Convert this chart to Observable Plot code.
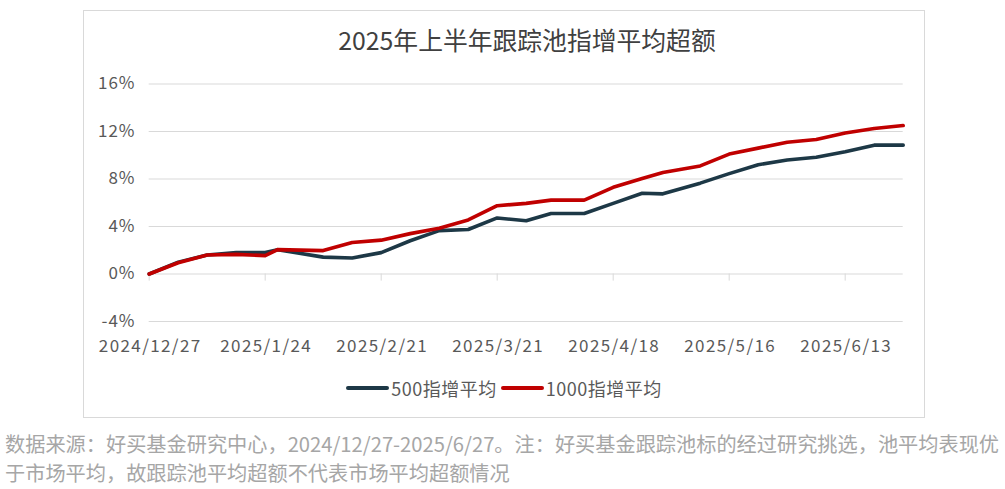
<!DOCTYPE html>
<html><head><meta charset="utf-8">
<script src="https://cdn.jsdelivr.net/npm/d3@7"></script>
<script src="https://cdn.jsdelivr.net/npm/@observablehq/plot@0.6"></script>
<style>
body{margin:0;background:#fff;width:1005px;height:489px;position:relative;overflow:hidden;font-family:"Noto Sans CJK SC","Noto Sans",sans-serif;}
#box{position:absolute;left:83px;top:10px;width:840px;height:406px;border:1px solid #d9d9d9;background:#fff;}
#title{position:absolute;left:23px;top:0;width:840px;height:56px;line-height:56px;text-align:center;font-size:24.8px;color:#404040;}
#chart{position:absolute;left:0;top:56px;}
#legend{position:absolute;left:0;top:356px;width:840px;height:42px;display:flex;align-items:center;justify-content:center;font-size:18px;letter-spacing:0.5px;color:#595959;}
#legend .sw{display:inline-block;width:43px;height:4px;border-radius:2px;margin-right:2px;}
#legend .it{display:flex;align-items:center;margin:0 2px;}
#caption{position:absolute;left:5px;top:429px;font-size:20.2px;line-height:29px;color:#a6a6a6;white-space:nowrap;}
#chart g[aria-label="x-axis tick label"] text{letter-spacing:1.4px;}
#chart g[aria-label="y-axis tick label"] text{letter-spacing:1px;}
</style></head>
<body>
<div id="box">
  <div id="title">2025年上半年跟踪池指增平均超额</div>
  <div id="chart"></div>
  <div id="legend"></div>
</div>
<div id="caption">数据来源：好买基金研究中心，2024/12/27-2025/6/27。注：好买基金跟踪池标的经过研究挑选，池平均表现优<br>于市场平均，故跟踪池平均超额不代表市场平均超额情况</div>
<script>
const dates = ["2024-12-27","2025-01-03","2025-01-10","2025-01-17","2025-01-24","2025-01-27","2025-02-07","2025-02-14","2025-02-21","2025-02-28","2025-03-07","2025-03-14","2025-03-21","2025-03-28","2025-04-03","2025-04-11","2025-04-18","2025-04-25","2025-04-30","2025-05-09","2025-05-16","2025-05-23","2025-05-30","2025-06-06","2025-06-13","2025-06-20","2025-06-27"];
const series500 = [0, 1.0, 1.6, 1.8, 1.8, 2.05, 1.42, 1.35, 1.8, 2.8, 3.65, 3.75, 4.72, 4.48, 5.1, 5.1, 5.95, 6.8, 6.75, 7.65, 8.45, 9.2, 9.6, 9.83, 10.3, 10.85, 10.85];
const series1000 = [0, 0.95, 1.6, 1.65, 1.55, 2.05, 1.97, 2.65, 2.85, 3.4, 3.85, 4.55, 5.75, 5.95, 6.22, 6.22, 7.3, 8.05, 8.55, 9.1, 10.1, 10.6, 11.1, 11.32, 11.88, 12.25, 12.5];
const seriesNames = ["500指增平均", "1000指增平均"];
const seriesColors = ["#1d3846", "#c00000"];
const yTicks = [-4, 0, 4, 8, 12, 16];
const xTickDates = ["2024-12-27","2025-01-24","2025-02-21","2025-03-21","2025-04-18","2025-05-16","2025-06-13"];
const xTickLabels = ["2024/12/27","2025/1/24","2025/2/21","2025/3/21","2025/4/18","2025/5/16","2025/6/13"];

const parse = d3.utcParse("%Y-%m-%d");
const rows = [];
dates.forEach((d, i) => {
  rows.push({date: parse(d), v: series500[i], s: seriesNames[0]});
});
dates.forEach((d, i) => {
  rows.push({date: parse(d), v: series1000[i], s: seriesNames[1]});
});
const tickDates = xTickDates.map(parse);
const labelOf = new Map(tickDates.map((d, i) => [+d, xTickLabels[i]]));
const font = '"Noto Sans CJK SC","Noto Sans",sans-serif';

const chart = Plot.plot({
  width: 840, height: 293,
  marginLeft: 64.7, marginRight: 21.3, marginTop: 16.5, marginBottom: 39,
  style: {fontFamily: font, fontSize: "17px", color: "#595959", background: "transparent", overflow: "visible"},
  x: {type: "utc", domain: [parse(dates[0]), parse(dates[dates.length - 1])]},
  y: {domain: [-4, 16]},
  color: {domain: seriesNames, range: seriesColors},
  marks: [
    Plot.gridY(yTicks, {stroke: "#d9d9d9", strokeOpacity: 1, strokeWidth: 1}),
    Plot.ruleX(tickDates, {x: d => d, y1: 0, y2: -0.6, stroke: "#d9d9d9", strokeWidth: 1}),
    Plot.axisY(yTicks, {tickSize: 0, tickPadding: 13.7, tickFormat: d => d + "%", fill: "#595959", fontSize: 17, label: null}),
    Plot.axisX(tickDates, {tickSize: 0, tickPadding: 18, dx: 1, tickFormat: d => labelOf.get(+d), fill: "#595959", fontSize: 17, label: null}),
    Plot.line(rows, {x: "date", y: "v", z: "s", stroke: "s", strokeWidth: 3.6, strokeLinejoin: "round", strokeLinecap: "round"})
  ]
});
document.getElementById("chart").appendChild(chart);

const legend = document.getElementById("legend");
seriesNames.forEach((n, i) => {
  const it = document.createElement("span");
  it.className = "it";
  it.innerHTML = `<span class="sw" style="background:${seriesColors[i]}"></span><span>${n}</span>`;
  legend.appendChild(it);
});
</script>
</body></html>
